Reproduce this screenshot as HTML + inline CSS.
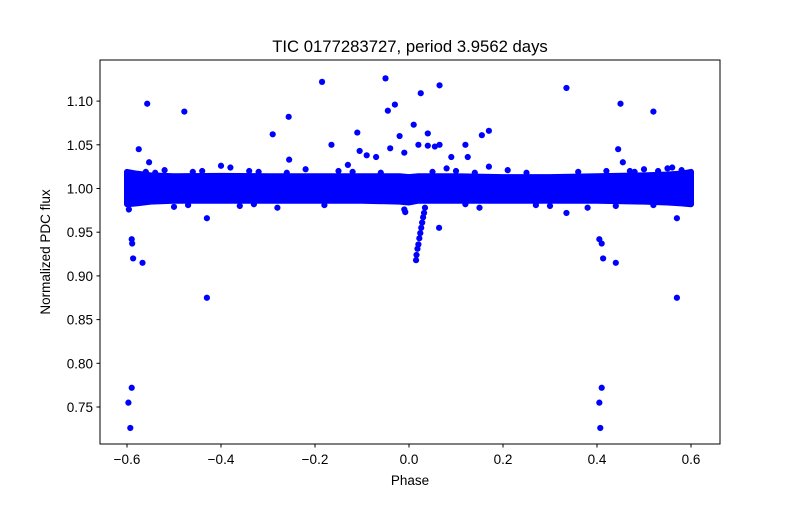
<!DOCTYPE html>
<html><head><meta charset="utf-8"><style>
body{margin:0;background:#fff;font-family:"Liberation Sans","DejaVu Sans",sans-serif}
svg text{font-family:"Liberation Sans","DejaVu Sans",sans-serif;fill:#000}
</style></head><body>
<svg id="chart" width="800" height="500" viewBox="0 0 800 500" xmlns="http://www.w3.org/2000/svg">
<rect width="800" height="500" fill="#fff"/>
<text x="410" y="52" font-size="16.7" text-anchor="middle">TIC 0177283727, period 3.9562 days</text>
<g id="plot"></g>
<rect x="100" y="60" width="620" height="384" fill="none" stroke="#000" stroke-width="1"/>
<text x="410" y="485" font-size="13.5" text-anchor="middle">Phase</text>
<text transform="translate(50,252) rotate(-90)" font-size="13.5" text-anchor="middle">Normalized PDC flux</text>
</svg>
<script>
const xTicks=[-0.6,-0.4,-0.2,0.0,0.2,0.4,0.6];
const xTickLabels=["−0.6","−0.4","−0.2","0.0","0.2","0.4","0.6"];
const yTicks=[0.75,0.80,0.85,0.90,0.95,1.00,1.05,1.10];
const yTickLabels=["0.75","0.80","0.85","0.90","0.95","1.00","1.05","1.10"];
// dense band envelope (phase, upper flux, lower flux)
const bandPhase=[-0.6,-0.58,-0.55,-0.5,-0.4,-0.3,-0.2,-0.1,-0.02,0.0,0.02,0.1,0.2,0.3,0.4,0.5,0.55,0.58,0.6];
const bandUpper=[1.019,1.017,1.015,1.014,1.0145,1.014,1.014,1.014,1.014,1.013,1.014,1.014,1.013,1.013,1.014,1.015,1.016,1.017,1.019];
const bandLower=[0.982,0.983,0.985,0.986,0.986,0.986,0.986,0.986,0.985,0.984,0.986,0.986,0.986,0.986,0.986,0.985,0.984,0.983,0.982];
// outliers
const outPhase=[-0.596,-0.59,-0.589,-0.587,-0.575,-0.567,-0.557,-0.553,-0.478,-0.43,-0.43,-0.29,-0.256,-0.255,-0.185,-0.165,-0.13,-0.11,-0.105,-0.09,-0.07,-0.05,-0.045,-0.04,-0.03,-0.02,-0.01,0.01,0.02,0.025,0.04,0.04,0.055,0.065,0.065,0.09,0.12,0.125,0.155,0.17,0.17,0.335,0.45,0.445,0.455,0.52,0.57,0.57,0.335,0.064,
0.405,0.41,0.413,0.44,0.405,0.41,0.407,-0.597,-0.59,-0.593,
0.015,0.016,0.018,0.02,0.022,0.024,0.026,0.028,0.030,0.032,0.034,-0.01,-0.008,
-0.52,-0.4,-0.38,-0.34,-0.22,-0.28,-0.36,0.08,0.1,0.21,0.3,0.38,0.47,0.5,0.55,0.56,-0.5,0.15,-0.15,
-0.56,-0.54,-0.46,-0.44,-0.32,-0.26,-0.12,-0.06,0.05,0.14,0.25,0.36,0.42,0.48,0.53,0.58,-0.47,-0.33,-0.18,0.12,0.27,0.44,0.52];
const outFlux=[0.976,0.942,0.937,0.920,1.045,0.915,1.097,1.030,1.088,0.966,0.875,1.062,1.082,1.033,1.122,1.050,1.027,1.064,1.043,1.038,1.036,1.126,1.089,1.046,1.096,1.060,1.041,1.073,1.050,1.109,1.063,1.049,1.048,1.118,1.050,1.036,1.050,1.036,1.061,1.066,1.025,1.115,1.097,1.045,1.030,1.088,0.966,0.875,0.972,0.955,
0.942,0.937,0.920,0.915,0.755,0.772,0.726,0.755,0.772,0.726,
0.918,0.924,0.931,0.936,0.943,0.949,0.955,0.961,0.967,0.972,0.978,0.976,0.973,
1.021,1.026,1.024,1.020,1.022,0.978,0.980,1.023,1.020,1.021,0.980,0.978,1.020,1.022,1.023,1.024,0.979,0.978,1.020,
1.019,1.018,1.019,1.020,1.019,1.018,1.019,1.018,1.019,1.018,1.018,1.019,1.020,1.019,1.020,1.021,0.981,0.982,0.981,0.982,0.981,0.980,0.981];
const NS="http://www.w3.org/2000/svg";
function xs(v){return 409+(v/0.1)*47;}
function ys(v){return 188.5-(v-1)*874;}
const svg=document.getElementById('chart');
const plot=document.getElementById('plot');
function mk(t,a){const e=document.createElementNS(NS,t);for(const k in a)e.setAttribute(k,a[k]);return e;}
let d="";
bandPhase.forEach((p,i)=>{d+=(i?"L":"M")+xs(p)+","+ys(bandUpper[i]);});
for(let i=bandPhase.length-1;i>=0;i--)d+="L"+xs(bandPhase[i])+","+ys(bandLower[i]);
d+="Z";
const band=mk('path',{d:d,fill:"#0000ff",stroke:"#0000ff","stroke-width":6,"stroke-linejoin":"round"});


plot.appendChild(band);
outPhase.forEach((p,i)=>{
  const c=mk('circle',{cx:xs(p),cy:ys(outFlux[i]),r:3.1,fill:"#0000ff"});
  
  
  plot.appendChild(c);
});
xTicks.forEach((t,i)=>{
  const x=xs(t);
  const l=mk('line',{x1:x,x2:x,y1:444,y2:447.5,stroke:"#000"});
  
  
  svg.appendChild(l);
  const tx=mk('text',{x:x,y:464,"font-size":13.5,"text-anchor":"middle"});
  
  
  tx.textContent=xTickLabels[i];svg.appendChild(tx);
});
yTicks.forEach((t,i)=>{
  const y=ys(t);
  const l=mk('line',{x1:96.5,x2:100,y1:y,y2:y,stroke:"#000"});
  
  
  svg.appendChild(l);
  const tx=mk('text',{x:93,y:y+5,"font-size":13.5,"text-anchor":"end"});
  
  
  tx.textContent=yTickLabels[i];svg.appendChild(tx);
});
</script>
</body></html>
